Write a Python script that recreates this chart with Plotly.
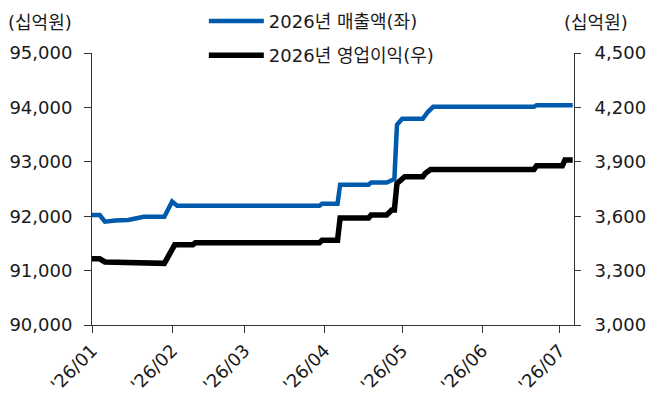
import plotly.graph_objects as go

# 2026 consensus: revenue (left axis, KRW bn)
rev_dates = ["2026-01-01", "2026-01-04", "2026-01-06", "2026-01-08", "2026-01-10",
             "2026-01-15", "2026-01-19", "2026-01-21", "2026-01-29", "2026-02-01",
             "2026-02-03", "2026-03-30", "2026-03-31", "2026-04-06", "2026-04-07",
             "2026-04-18", "2026-04-19", "2026-04-25", "2026-04-27", "2026-04-28",
             "2026-04-29", "2026-05-01", "2026-05-09", "2026-05-11", "2026-05-13",
             "2026-06-21", "2026-06-22", "2026-07-06"]
revenue = [92020, 92020, 91900, 91900, 91920,
           91930, 91960, 91990, 91990, 92270,
           92190, 92190, 92230, 92230, 92580,
           92580, 92620, 92620, 92660, 92680,
           93680, 93790, 93790, 93920, 94010,
           94010, 94040, 94040]

# 2026 consensus: operating profit (right axis, KRW bn)
op_dates = ["2026-01-01", "2026-01-04", "2026-01-06", "2026-01-19", "2026-01-21",
            "2026-01-29", "2026-02-02", "2026-02-09", "2026-02-10", "2026-03-30",
            "2026-03-31", "2026-04-06", "2026-04-07", "2026-04-18", "2026-04-19",
            "2026-04-25", "2026-04-27", "2026-04-28", "2026-04-29", "2026-05-02",
            "2026-05-09", "2026-05-10", "2026-05-12", "2026-06-21", "2026-06-22",
            "2026-07-02", "2026-07-03", "2026-07-06"]
op_profit = [3365, 3365, 3348, 3345, 3340,
             3340, 3442, 3442, 3454, 3454,
             3467, 3467, 3590, 3590, 3607,
             3607, 3634, 3634, 3780, 3818,
             3818, 3837, 3858, 3858, 3878,
             3878, 3910, 3910]

rev_name = "2026년 매출액(좌)"
op_name = "2026년 영업이익(우)"
unit_label = "(십억원)"

FONT = "DejaVu Sans, Noto Sans CJK KR, sans-serif"
TXT = "#1a1a1a"
AX = "#333333"
FS = 18

fig = go.Figure()
fig.add_trace(go.Scatter(x=rev_dates, y=revenue, name=rev_name, mode="lines",
                         line=dict(color="#005BAC", width=4.5), legendgroup="a"))
fig.add_trace(go.Scatter(x=op_dates, y=op_profit, name=op_name, mode="lines",
                         line=dict(color="#000000", width=5.5), yaxis="y2",
                         legendgroup="b"))

fig.update_layout(
    width=646, height=396,
    margin=dict(l=92, r=72, t=53, b=71, autoexpand=False),
    paper_bgcolor="white", plot_bgcolor="white",
    font=dict(family=FONT, size=FS, color=TXT),
    showlegend=True,
    legend=dict(x=0.232, y=1.185, xanchor="left", yanchor="top",
                bgcolor="rgba(0,0,0,0)", tracegroupgap=8, itemwidth=55,
                font=dict(family=FONT, size=FS, color=TXT)),
    xaxis=dict(type="date", range=["2026-01-01", "2026-07-06 12:00"],
               tick0="2026-01-01", dtick="M1", tickformat="'%y/%m",
               tickangle=-45, ticks="outside", ticklen=7, tickcolor=AX,
               showline=True, linecolor=AX, linewidth=1, showgrid=False,
               zeroline=False, tickfont=dict(size=FS)),
    yaxis=dict(range=[90000, 95000], dtick=1000, tickformat=",",
               ticks="outside", ticklen=7, tickcolor=AX, showline=True,
               linecolor=AX, linewidth=1, showgrid=False, zeroline=False,
               ticklabelstandoff=8, tickfont=dict(size=FS)),
    yaxis2=dict(range=[3000, 4500], dtick=300, tickformat=",",
                overlaying="y", side="right",
                ticks="outside", ticklen=6, tickcolor=AX, showline=True,
                linecolor=AX, linewidth=1, showgrid=False, zeroline=False,
                ticklabelstandoff=10, tickfont=dict(size=FS)),
    annotations=[
        dict(text=unit_label, xref="paper", yref="paper", x=-0.108, y=1.111,
             xanchor="center", yanchor="middle", showarrow=False,
             font=dict(size=FS, color=TXT)),
        dict(text=unit_label, xref="paper", yref="paper", x=1.046, y=1.111,
             xanchor="center", yanchor="middle", showarrow=False,
             font=dict(size=FS, color=TXT)),
    ],
)

fig.write_html("out.html")
